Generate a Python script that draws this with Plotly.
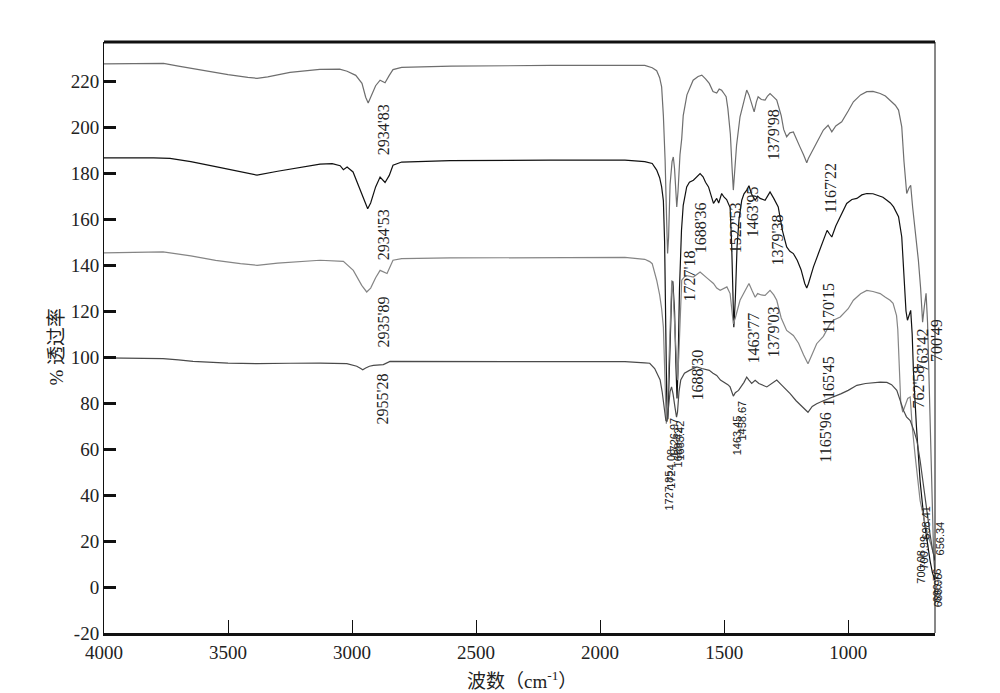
import plotly.graph_objects as go

# 波数 (cm-1) と透過率 (%) — 4本のスペクトル
wn_a = [4000, 3900, 3800, 3760, 3700, 3600, 3500, 3420, 3383, 3340, 3250, 3130, 3050, 3020, 2985,
        2960, 2945, 2935, 2925, 2905, 2887, 2867, 2850, 2835, 2800, 2600, 2200, 1900, 1820, 1790,
        1772, 1760, 1752, 1745, 1738, 1732, 1728, 1724, 1718, 1710, 1705, 1700, 1695, 1691, 1686,
        1678, 1671, 1665, 1650, 1625, 1605, 1590, 1575, 1560, 1545, 1530, 1520, 1510, 1500, 1492,
        1485, 1475, 1468, 1463, 1458, 1450, 1436, 1420, 1409, 1400, 1390, 1379, 1370, 1363, 1350,
        1335, 1325, 1315, 1300, 1288, 1270, 1260, 1248, 1235, 1221, 1210, 1195, 1180, 1170, 1167,
        1160, 1140, 1120, 1100, 1081, 1072, 1066, 1050, 1026, 1000, 979, 950, 925, 900, 871,
        850, 831, 810, 797, 784, 775, 764, 755, 748, 740, 730, 717, 708, 700, 693,
        686, 680, 675, 670, 665, 660, 655, 650]
t_a = [227.5, 227.6, 227.8, 227.7, 226.5, 224.5, 222.8, 221.6, 221.2, 221.8, 223.8, 225.1, 225.2, 224.3, 222.5,
       219, 213, 210.5, 213, 218, 220.4, 219.3, 222.5, 225, 226, 226.5, 226.8, 227, 226.8, 225.8,
       224.5, 221.5, 217.5, 205, 185.6, 160, 145, 152, 175, 185, 187, 182, 172, 165.3, 172,
       188, 195, 205, 214, 220.4, 222, 222.6, 221, 219, 215.5, 214.8, 216.5, 216, 214.5, 213.2,
       208, 197, 182, 172.6, 180, 192, 204.5, 212, 216.1, 214, 210, 206.6, 211, 213.2, 212,
       211.7, 213.5, 214.6, 213, 211.7, 205, 199, 195.8, 197.5, 197.9, 195, 191.5, 188, 185, 184.5,
       186.5, 190.7, 195, 198.7, 200.8, 199, 197.9, 200.5, 202.3, 207, 211, 214, 215.4, 215.5, 214.6,
       213.5, 211.7, 209.5, 207.4, 200.1, 185, 171.1, 173.5, 174.7, 165, 155, 142.1, 130, 115.2, 122,
       127.7, 115, 95, 70, 45, 25, 12, 6]

wn_b = [4000, 3900, 3800, 3734, 3650, 3550, 3450, 3383, 3300, 3200, 3129, 3080, 3048, 3035, 3020,
        2996, 2968, 2950, 2937, 2925, 2905, 2887, 2867, 2850, 2835, 2800, 2605, 2200, 1900, 1820,
        1790, 1772, 1760, 1752, 1745, 1740, 1735, 1731, 1727, 1722, 1716, 1711, 1707, 1700, 1694,
        1690, 1686, 1680, 1672, 1665, 1651, 1640, 1624, 1610, 1597, 1585, 1575, 1563, 1552, 1543,
        1530, 1522, 1510, 1500, 1490, 1476, 1470, 1465, 1461, 1455, 1448, 1440, 1429, 1420, 1409,
        1400, 1390, 1375, 1365, 1355, 1335, 1325, 1315, 1300, 1282, 1265, 1248, 1235, 1221, 1205,
        1190, 1175, 1167, 1160, 1150, 1140, 1120, 1100, 1085, 1075, 1066, 1050, 1032, 1006, 985,
        965, 945, 925, 900, 884, 860, 844, 830, 817, 797, 784, 775, 767, 761, 755,
        748, 742, 737, 725, 710, 695, 680, 670, 660, 650]
t_b = [186.6, 186.7, 186.6, 186.4, 185, 182.8, 180.6, 179.1, 180.8, 182.7, 183.9, 184.1, 183.2, 181.5, 182.6,
       180.5, 172.6, 168, 164.5, 167, 174, 178.3, 175.9, 179, 183.4, 184.8, 185.4, 185.6, 185.6, 185,
       184.2, 181.3, 178, 174, 168, 150, 110, 78, 73, 90, 115, 130, 133, 120, 95,
       82, 95, 130, 155, 166, 174, 176, 176.9, 178.5, 179.8, 178.4, 176, 174, 170, 166.8,
       169, 167, 171.1, 169.5, 168.5, 165, 150, 125, 113, 125, 148, 160, 168.2, 171, 172.6,
       174.5, 171, 168.2, 170, 169, 168.2, 170, 171.8, 169, 165.3, 155, 147.9, 146, 145, 142,
       138, 132, 130, 132, 136, 139.2, 145, 150.8, 155.1, 153.5, 152.2, 157, 161, 166.8, 168.5,
       169, 170.5, 171.1, 171, 170.4, 169.5, 168.2, 167, 165.3, 161, 152.2, 135, 120, 116, 118,
       120.3, 110, 94, 70, 46, 30, 18, 11.5, 6, 3]

wn_c = [4000, 3900, 3762, 3650, 3550, 3450, 3383, 3300, 3200, 3129, 3035, 2995, 2961, 2941, 2925,
        2905, 2887, 2859, 2835, 2800, 2605, 2200, 1900, 1820, 1800, 1790, 1772, 1760, 1752, 1745,
        1740, 1736, 1733, 1729, 1722, 1716, 1711, 1706, 1700, 1694, 1688, 1683, 1677, 1671, 1655,
        1640, 1624, 1597, 1585, 1565, 1543, 1530, 1516, 1500, 1489, 1476, 1470, 1463, 1455, 1446,
        1436, 1420, 1409, 1400, 1388, 1375, 1365, 1350, 1335, 1315, 1300, 1288, 1270, 1248, 1221,
        1200, 1180, 1167, 1162, 1150, 1127, 1100, 1087, 1075, 1060, 1032, 1000, 979, 950, 925,
        900, 871, 850, 831, 819, 805, 800, 795, 788, 780, 770, 760, 750, 742, 730,
        720, 710, 695, 680, 663, 650]
t_c = [145.3, 145.5, 145.7, 144, 142, 140.6, 139.9, 140.8, 141.6, 142.1, 141.6, 137.7, 131.2, 128.3, 130,
       134.5, 137.7, 136.3, 142.1, 142.8, 143.1, 143.3, 143.3, 142.5, 141.5, 140.6, 133.4, 127, 121, 113,
       98, 80, 71, 78, 100, 122, 133.4, 128, 115, 100, 89.9, 100, 118, 133.4, 135.5,
       135, 134.8, 137, 136, 134, 132, 130, 129, 130, 130.5, 127.6, 122, 114.5, 117, 121,
       124.7, 128, 130.5, 132, 129, 126, 127.6, 127, 126.8, 129, 127, 124.7, 117, 111.6, 109.4,
       106, 101, 98, 97.1, 100, 105.8, 109, 111.6, 114, 116, 117.4, 121, 124.7, 127.5, 129,
       128.5, 127.6, 126, 124.7, 123.4, 118, 112, 100, 80, 76, 79, 82, 82.6, 70, 57,
       46, 37.6, 30, 23, 17.3, 12]

wn_d = [4000, 3900, 3762, 3700, 3641, 3500, 3383, 3250, 3129, 3021, 2981, 2965, 2957, 2945, 2930,
        2914, 2874, 2847, 2605, 2200, 1900, 1820, 1800, 1780, 1765, 1758, 1750, 1742, 1735, 1730,
        1725, 1718, 1712, 1706, 1698, 1692, 1688, 1682, 1675, 1660, 1640, 1610, 1590, 1560, 1545,
        1530, 1515, 1500, 1485, 1476, 1468, 1463, 1455, 1442, 1420, 1409, 1400, 1389, 1375, 1360,
        1328, 1310, 1288, 1270, 1250, 1234, 1210, 1190, 1167, 1162, 1145, 1127, 1100, 1060, 1030,
        1000, 965, 930, 900, 871, 844, 825, 804, 790, 777, 765, 750, 735, 723, 710,
        696, 685, 670, 660, 650]
t_d = [99.6, 99.5, 99.3, 98.8, 98.1, 97.4, 97.1, 97.3, 97.4, 97.1, 96, 95, 94.5, 95.2, 96,
       96.4, 96.7, 98.1, 98.1, 98.2, 98, 97.5, 97.3, 95, 92, 90, 85, 77, 72.4, 72,
       78, 85, 87, 84, 78, 73.9, 76, 85, 90, 93, 94.2, 95.7, 95, 94.2, 93,
       92, 90, 89, 88, 87, 84.5, 83, 84.5, 85.5, 89, 91.3, 90, 88.5, 89.9, 88.5,
       87, 88.5, 90, 88, 86, 84.1, 81, 79, 76.8, 76, 78.5, 79.7, 81, 82.6, 84,
       85.5, 87.7, 88.5, 88.8, 89.1, 89, 88, 85.5, 81, 76.8, 74, 72.4, 68, 63.7, 55,
       43.4, 33, 23, 16, 11.5]

y_ticks = list(range(-20, 221, 20))
y_ticktext = [str(v) for v in y_ticks]
x_ticks = [4000, 3500, 3000, 2500, 2000, 1500, 1000]

# ピークラベル (テキスト, 波数, 透過率, xshift)
labels_serif = [
    ("2934'83", 2875, 198.7, 0), ("2934'53", 2875, 153.0, 0), ("2935'89", 2875, 115.1, 0),
    ("1379'98", 1303, 196.5, 0), ("1167'22", 1073, 173.4, 0), ("1727'18", 1641, 135.1, 0),
    ("1688'36", 1597, 156.0, 0), ("1522'53", 1456, 156.0, 0), ("1463'95", 1387, 163.0, 0),
    ("1379'38", 1286, 150.8, 0), ("1170'15", 1081, 121.2, 0), ("1463'77", 1383, 108.1, 0),
    ("1379'03", 1303, 110.7, 0), ("1688'30", 1609, 92.0, 0), ("1165'45", 1081, 89.4, 0),
    ("1165'96", 1093, 65.0, 0), ("763'42", 702, 102.9, 0), ("700'49", 651, 107.3, 2),
    ("762'58", 718, 86.8, 0), ("2955'28", 2879, 81.6, 0),
]
labels_sans = [
    ("1727.85", 1722, 42.0, 0), ("1724.08", 1714, 51.5, 0), ("1726.97", 1706, 65.0, 0),
    ("1688.42", 1686, 60.7, 0), ("1685.42", 1678, 63.7, 0), ("1463.45", 1448, 66.0, 0),
    ("1458.67", 1432, 72.4, 0), ("700.08", 710, 8.9, 0), ("700.99", 698, 15.0, 0),
    ("698.41", 686, 28.0, 0), ("656.34", 651, 21.0, 5), ("696.76", 651, 0.6, 2),
    ("686.96", 651, -1.5, 4),
]

fig = go.Figure()
series = [(wn_a, t_a, '#6e6e6e'), (wn_b, t_b, '#111111'), (wn_c, t_c, '#858585'), (wn_d, t_d, '#4a4a4a')]
for xs, ys, col in series:
    fig.add_trace(go.Scatter(x=xs, y=ys, mode='lines', line=dict(color=col, width=1.2),
                             showlegend=False, hoverinfo='skip'))

for txt, x, y, xs in labels_serif:
    fig.add_annotation(x=x, y=y, text=txt, textangle=-90, showarrow=False, xshift=xs,
                       font=dict(family='Liberation Serif', size=16, color='#222'))
for txt, x, y, xs in labels_sans:
    fig.add_annotation(x=x, y=y, text=txt, textangle=-90, showarrow=False, xshift=xs,
                       font=dict(family='Liberation Sans', size=11, color='#222'))

# 軸タイトル
fig.add_annotation(xref='paper', yref='paper', x=-0.057, y=0.484, text='% 透过率', textangle=-90,
                   xanchor='center', yanchor='middle', showarrow=False,
                   font=dict(family='Liberation Serif, Noto Sans CJK SC', size=19, color='#222'))
fig.add_annotation(xref='paper', yref='paper', x=0.503, y=-0.08, text='波数（cm<sup>-1</sup>）',
                   xanchor='center', yanchor='middle', showarrow=False,
                   font=dict(family='Liberation Serif, Noto Sans CJK SC', size=19, color='#222'))

# 上と右の枠線
fig.add_shape(type='line', xref='paper', yref='paper', x0=0, x1=1, y0=1, y1=1, line=dict(color='#111', width=3))
fig.add_shape(type='line', xref='paper', yref='paper', x0=1, x1=1, y0=0, y1=1, line=dict(color='#111', width=1))

# ページ本体の余白 (8px) の分を差し引いた余白
fig.update_layout(
    width=1000, height=693,
    margin=dict(l=96, r=73, t=34, b=68),
    paper_bgcolor='white', plot_bgcolor='white',
    font=dict(family='Liberation Serif', color='#222'),
    xaxis=dict(range=[4000, 650], tickvals=x_ticks,
               ticks='inside', ticklen=13, tickwidth=1, tickcolor='#111',
               showline=True, linewidth=3, linecolor='#111', showgrid=False, zeroline=False,
               tickfont=dict(family='Liberation Serif', size=19, color='#222')),
    yaxis=dict(range=[-20, 237], tickvals=y_ticks, ticktext=y_ticktext,
               ticks='inside', ticklen=12, tickwidth=3, tickcolor='#111',
               showline=True, linewidth=1, linecolor='#111', showgrid=False, zeroline=False,
               tickfont=dict(family='Liberation Serif', size=19, color='#222')),
)

fig.write_html("out.html")
